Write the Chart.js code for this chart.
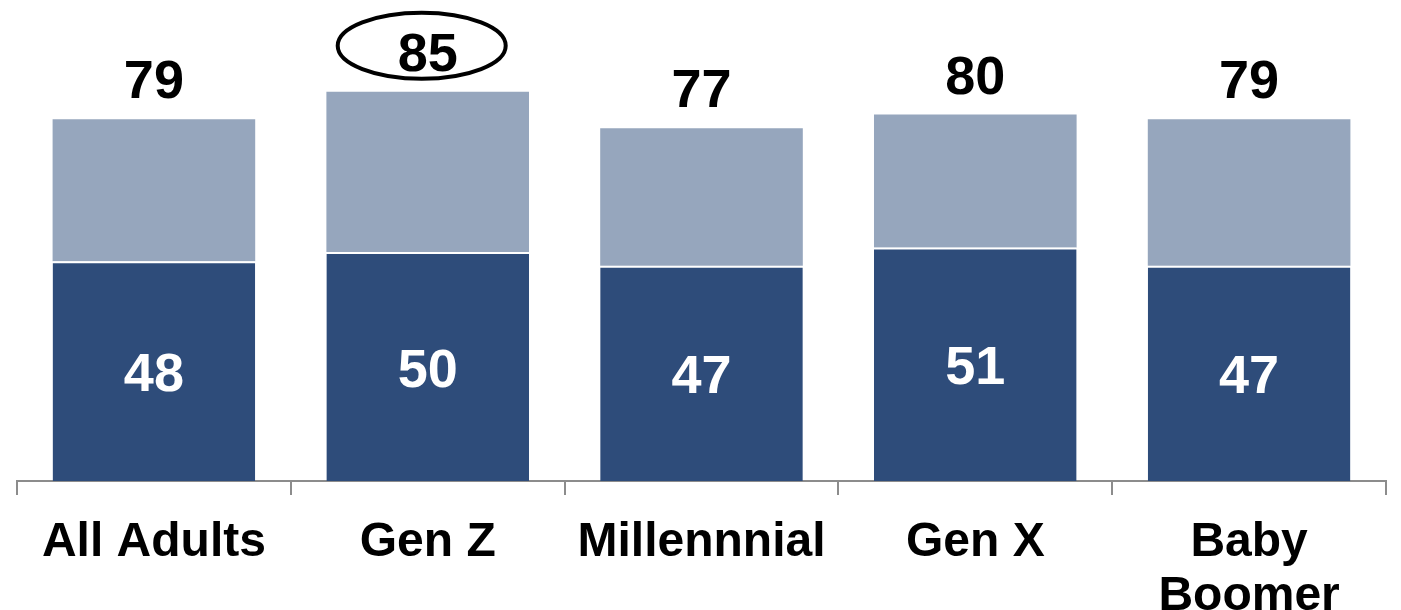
<!DOCTYPE html>
<html>
<head>
<meta charset="utf-8">
<script src="https://cdn.jsdelivr.net/npm/chart.js@4"></script>
<style>
  html, body { margin: 0; padding: 0; background: #fff; }
  #wrap { width: 1401px; height: 610px; }
</style>
</head>
<body>
<div id="wrap"><canvas id="chart" width="1401" height="610"></canvas></div>
<script>
const categories = ['All Adults', 'Gen Z', 'Millennnial', 'Gen X', ['Baby', 'Boomer']];
const lowerValues = [48, 50, 47, 51, 47];
const upperValues = [31, 35, 30, 29, 32];
const totalLabels = ['79', '85', '77', '80', '79'];
const circledIndex = 1;

const FONT = '"Liberation Sans", Arial, sans-serif';

// draws the totals above bars, the values inside the dark part and the ring around Gen Z
const labelPlugin = {
    id: 'labels',
    afterDatasetsDraw(chart) {
        const ctx = chart.ctx;
        const lower = chart.getDatasetMeta(0).data;
        const upper = chart.getDatasetMeta(1).data;
        ctx.save();
        ctx.font = 'bold 54px ' + FONT;
        ctx.textAlign = 'center';
        ctx.textBaseline = 'alphabetic';
        lower.forEach((bar, i) => {
            ctx.fillStyle = '#ffffff';
            ctx.fillText(String(lowerValues[i]), bar.x, (bar.y + bar.base) / 2 + 20);
            ctx.fillStyle = '#000000';
            ctx.fillText(totalLabels[i], upper[i].x, upper[i].y - 21);
        });
        const c = upper[circledIndex];
        ctx.beginPath();
        ctx.ellipse(c.x - 6, c.y - 46, 84, 33, 0, 0, Math.PI * 2);
        ctx.lineWidth = 4;
        ctx.strokeStyle = '#000000';
        ctx.stroke();
        ctx.restore();
    }
};

new Chart(document.getElementById('chart').getContext('2d'), {
    type: 'bar',
    data: {
        labels: categories,
        datasets: [{
            data: lowerValues,
            backgroundColor: '#2e4c7a',
            borderColor: '#ffffff',
            borderWidth: { top: 2, left: 0, right: 0, bottom: 0 },
            borderSkipped: false,
            categoryPercentage: 1,
            barPercentage: 0.74
        }, {
            data: upperValues,
            backgroundColor: '#96a6bd',
            borderWidth: 0,
            categoryPercentage: 1,
            barPercentage: 0.74
        }]
    },
    options: {
        responsive: false,
        animation: false,
        layout: { padding: { left: 17, right: 15, top: 23, bottom: 0 } },
        plugins: { legend: { display: false }, tooltip: { enabled: false } },
        scales: {
            x: {
                stacked: true,
                afterFit: (axis) => { axis.height = 129; },
                grid: {
                    display: true,
                    drawOnChartArea: false,
                    offset: true,
                    tickLength: 14,
                    color: '#8c8c8c',
                    lineWidth: 2
                },
                border: { display: true, color: '#8c8c8c', width: 2 },
                ticks: {
                    color: '#000000',
                    padding: 21,
                    maxRotation: 0,
                    autoSkip: false,
                    font: { family: FONT, size: 48, weight: 'bold', lineHeight: 1.12 }
                }
            },
            y: {
                stacked: true,
                display: false,
                min: 0,
                max: 100
            }
        }
    },
    plugins: [labelPlugin]
});
</script>
</body>
</html>
